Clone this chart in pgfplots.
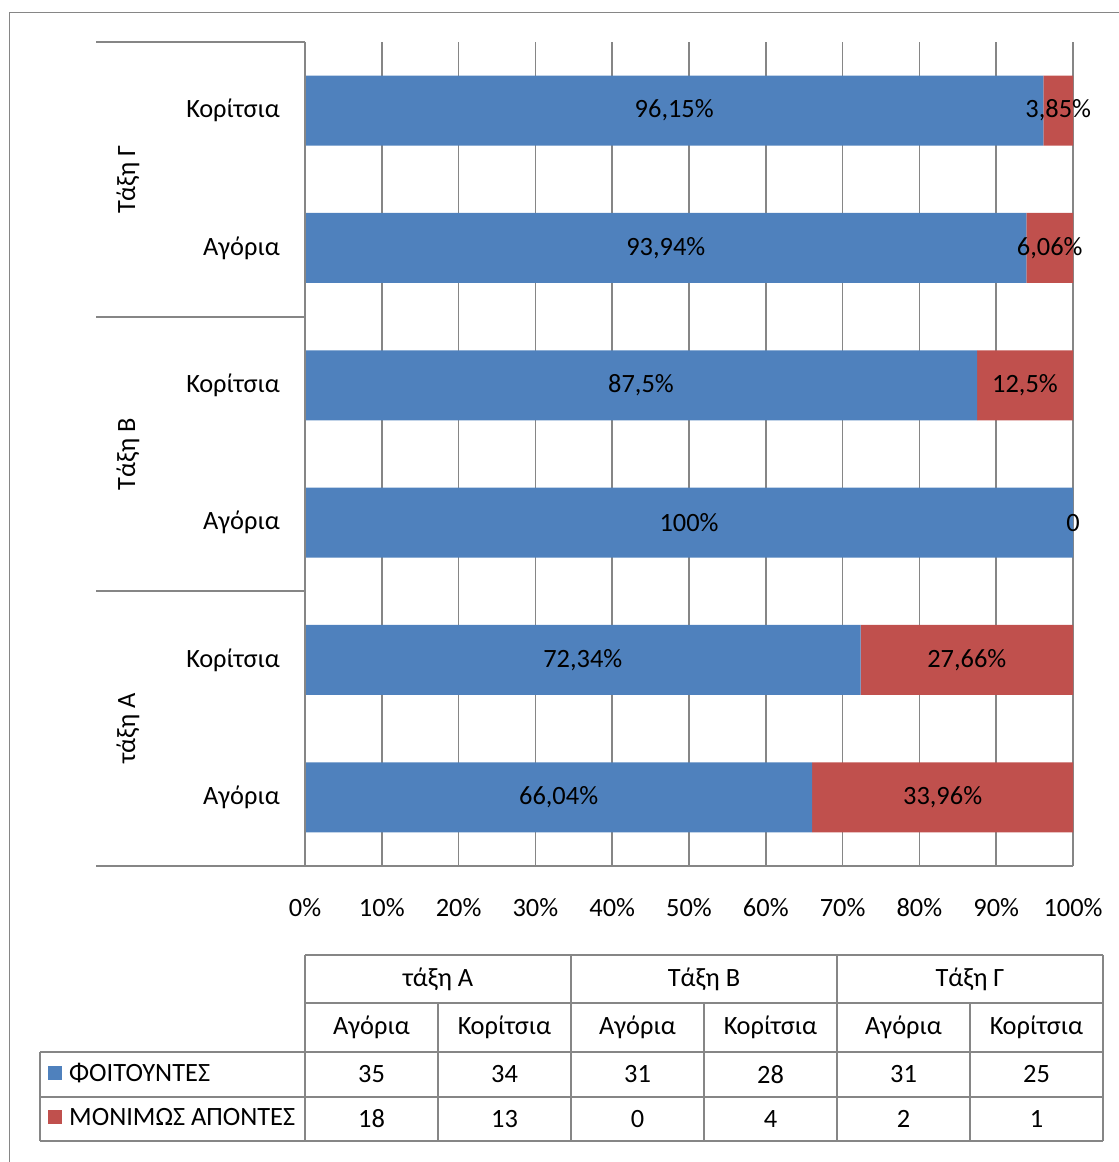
\documentclass[border=0pt]{standalone}
\usepackage{fontspec}
\setmainfont{Carlito}
\usepackage{pgfplots}
\usepackage{pgfplotstable}
\pgfplotsset{compat=1.18}
\definecolor{serblue}{HTML}{4F81BD}
\definecolor{serred}{HTML}{C0504D}
\definecolor{linegray}{HTML}{868686}
\newcommand{\chartfont}{\fontsize{26.5}{31}\selectfont}

% percentages per row (0 = taxi A boys ... 5 = taxi G girls)
\pgfplotstableread{
y foit apon
0 66.04 33.96
1 72.34 27.66
2 100 0
3 87.5 12.5
4 93.94 6.06
5 96.15 3.85
}\pct
% label positions (middle of each segment)
\pgfplotstableread{
y cf ca labf laba
0 33.02 83.02 {66,04\%} {33,96\%}
1 36.17 86.17 {72,34\%} {27,66\%}
2 50 100 {100\%} {0}
3 43.75 93.75 {87,5\%} {12,5\%}
4 46.97 96.97 {93,94\%} {6,06\%}
5 48.075 98.075 {96,15\%} {3,85\%}
}\labs

\pgfplotsset{geom/.style={
  at={(305bp,296bp)}, anchor=south west,
  scale only axis, width=768bp, height=824bp,
  xmin=0, xmax=100, ymin=-0.5, ymax=5.5, clip=false}}

\begin{document}
\begin{tikzpicture}[x=1bp,y=1bp,font=\chartfont]
\useasboundingbox (0,0) rectangle (1119,1162);
\begin{scope}
\clip (0,0) rectangle (1119,1162);
\draw[linegray, line width=1.5bp] (9.5,-5) -- (9.5,1149.5) -- (1130,1149.5);
\end{scope}

\begin{axis}[geom,
  xbar stacked, bar width=70bp,
  axis line style={draw=none},
  major tick length=0pt,
  xtick={0,10,...,100},
  xticklabels={0\%,10\%,20\%,30\%,40\%,50\%,60\%,70\%,80\%,90\%,100\%},
  ytick={0,...,5},
  yticklabels={Αγόρια,Κορίτσια,{Αγόρια\hspace{7bp}},Κορίτσια,Αγόρια,Κορίτσια},
  tick label style={font=\chartfont},
  xticklabel style={anchor=center, inner sep=0pt, yshift=-42bp},
  yticklabel style={anchor=east, inner sep=0pt, xshift=-25bp},
  xmajorgrids, grid style={linegray, line width=1.5bp},
]
\addplot[fill=serblue, draw=none] table[x=foit, y=y] {\pct};
\addplot[fill=serred, draw=none] table[x=apon, y=y] {\pct};
\end{axis}

\begin{axis}[geom, hide axis,
  nodes near coords, point meta=explicit symbolic,
  every node near coord/.append style={font=\chartfont, text=black, anchor=center, inner sep=0pt},
]
\addplot[only marks, mark=none] table[x=cf, y=y, meta=labf] {\labs};
\addplot[only marks, mark=none] table[x=ca, y=y, meta=laba] {\labs};
\end{axis}

% category group separators and bottom line
\draw[linegray, line width=1.5bp] (96,1120) -- (305,1120);
\draw[linegray, line width=1.5bp] (96,845) -- (305,845);
\draw[linegray, line width=1.5bp] (96,571) -- (305,571);
\draw[linegray, line width=1.5bp] (96,296) -- (1073,296);
\draw[linegray, line width=1.5bp] (305,296) -- (305,1120);

\node[rotate=90] at (128,982.5) {Τάξη Γ};
\node[rotate=90] at (128,708) {Τάξη Β};
\node[rotate=90] at (128,433.5) {τάξη Α};

% data table
\begin{scope}[linegray, line width=1.5bp]
\draw (305,207) -- (1103,207);
\draw (305,159) -- (1103,159);
\draw (40,110) -- (1103,110);
\draw (40,65) -- (1103,65);
\draw (40,21) -- (1103,21);
\draw (40,21) -- (40,110);
\foreach \xx in {305,571,837,1103} \draw (\xx,21) -- (\xx,207);
\foreach \xx in {438,704,970} \draw (\xx,21) -- (\xx,159);
\end{scope}

\node at (438,183) {τάξη Α};
\node at (704,183) {Τάξη Β};
\node at (970,183) {Τάξη Γ};
\foreach \xx/\tt in {371.5/Αγόρια,504.5/Κορίτσια,637.5/Αγόρια,770.5/Κορίτσια,903.5/Αγόρια,1036.5/Κορίτσια}
  \node at (\xx,134.5) {\tt};
\foreach \xx/\vv in {371.5/35,504.5/34,637.5/31,770.5/28,903.5/31,1036.5/25}
  \node at (\xx,87.5) {\vv};
\foreach \xx/\vv in {371.5/18,504.5/13,637.5/0,770.5/4,903.5/2,1036.5/1}
  \node at (\xx,43) {\vv};

\fill[serblue] (48,82) rectangle (62,96);
\fill[serred] (48,38) rectangle (62,52);
\node[anchor=west, inner sep=0pt] at (69,89) {ΦΟΙΤΟΥΝΤΕΣ};
\node[anchor=west, inner sep=0pt] at (69,45) {ΜΟΝΙΜΩΣ ΑΠΟΝΤΕΣ};
\end{tikzpicture}
\end{document}
